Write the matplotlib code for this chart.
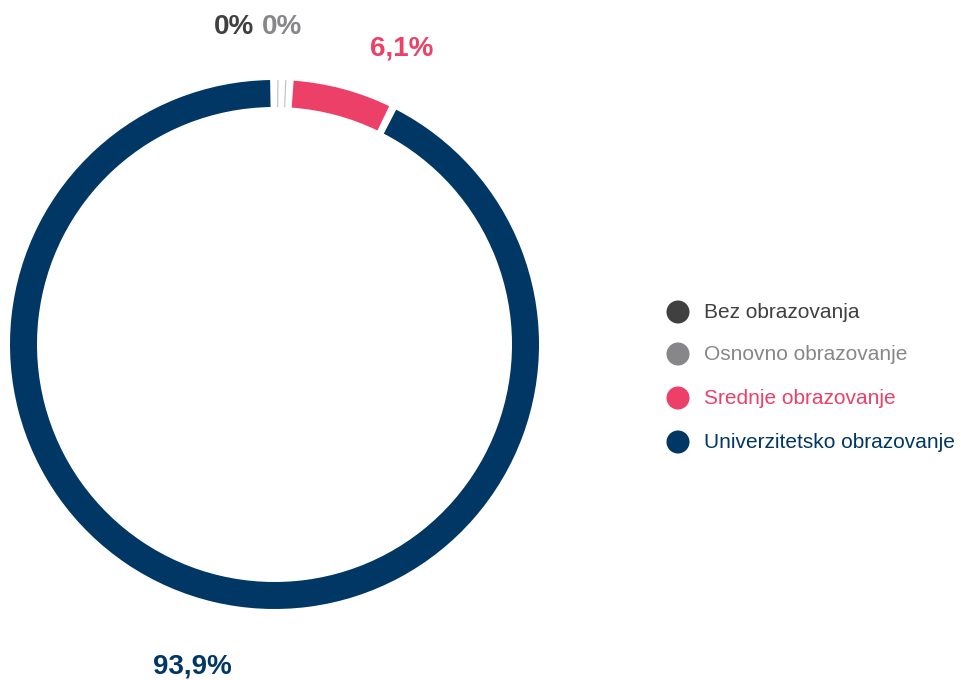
import matplotlib.pyplot as plt
from matplotlib.patches import Wedge

# data
categories = ['Bez obrazovanja', 'Osnovno obrazovanje',
              'Srednje obrazovanje', 'Univerzitetsko obrazovanje']
values = [0.0, 0.0, 6.1, 93.9]
value_labels = ['0%', '0%', '6,1%', '93,9%']
colors = ['#404041', '#87878a', '#ec4068', '#003764']

plt.rcParams['font.family'] = ['Liberation Sans', 'DejaVu Sans']

fig = plt.figure(figsize=(9.61, 6.8), dpi=100)
ax = fig.add_axes([0, 0, 1, 1])
ax.set_xlim(0, 961)
ax.set_ylim(0, 680)
ax.axis('off')

cx, cy = 274.5, 680 - 344.5
r_out, ring = 264.5, 27
pad = 1.7  # degrees between slices
start = 0.75

total = sum(values)
free = 360 - pad * len(values)
a = start
for v, c in zip(values, colors):
    span = v / total * free
    b = a + span
    if span > 0:
        w = Wedge((cx, cy), r_out, 90 - b, 90 - a, width=ring,
                  facecolor=c, edgecolor='none')
    else:
        # zero slice: only a thin stroke
        w = Wedge((cx, cy), r_out, 90 - a, 90 - a, width=ring,
                  facecolor='none', edgecolor='#c4c4c6', linewidth=0.9)
    ax.add_patch(w)
    a = b + pad

# value labels
label_pos = [(234, 653), (282, 653), (402, 631), (192, 14)]
for (x, y), t, c in zip(label_pos, value_labels, colors):
    ax.text(x, y, t, color=c, fontsize=20, fontweight='bold',
            ha='center', va='center')

# legend
ys = [680 - 312, 680 - 354, 680 - 398, 680 - 442]
for y, name, c in zip(ys, categories, colors):
    ax.scatter(678, y, s=275, color=c, edgecolor='none')
    ax.text(704, y, name, color=c, fontsize=15, ha='left', va='center')

fig.savefig('out.png', dpi=100)
